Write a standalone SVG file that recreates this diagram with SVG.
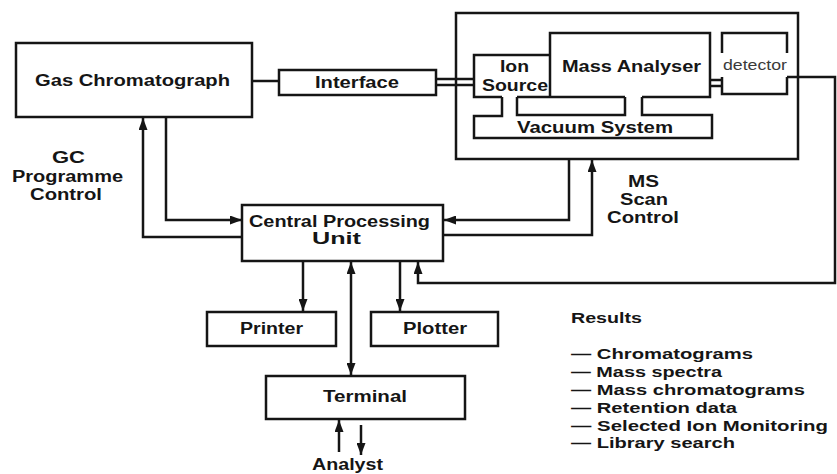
<svg xmlns="http://www.w3.org/2000/svg" width="837" height="474" viewBox="0 0 837 474">
<style>
.b{fill:none;stroke:#151515;stroke-width:2.5;stroke-linejoin:miter}
.c{fill:none;stroke:#151515;stroke-width:2.5}
.t{font-family:"Liberation Sans",Arial,sans-serif;font-weight:bold;font-size:16px;fill:#151515}
.s{font-family:"Liberation Sans",Arial,sans-serif;font-weight:normal;font-size:14px;fill:#3a3a3a}
.r{font-family:"Liberation Sans",Arial,sans-serif;font-weight:bold;font-size:15px;fill:#151515}
</style>
<defs>
<marker id="ah" viewBox="0 0 12 9" refX="12" refY="4.5" markerWidth="12" markerHeight="9" markerUnits="userSpaceOnUse" orient="auto-start-reverse">
<path d="M0,0 L12,4.5 L0,9 z" fill="#151515"/>
</marker>
</defs>
<rect width="837" height="474" fill="#fff"/>

<g id="gc">
<rect class="b" x="16" y="43" width="236" height="74"/>
<text class="t" x="35" y="86" textLength="195" lengthAdjust="spacingAndGlyphs">Gas Chromatograph</text>
</g>

<g id="interface">
<rect class="b" x="279" y="70" width="157" height="25"/>
<text class="t" x="315" y="88" textLength="84" lengthAdjust="spacingAndGlyphs">Interface</text>
</g>

<g id="ms">
<rect class="b" x="456" y="13" width="342" height="146"/>
</g>

<g id="ion-source">
<path class="b" d="M550,55 H474 V97 H502 M517,97 H550"/>
<text class="t" x="500" y="72" textLength="29" lengthAdjust="spacingAndGlyphs">Ion</text>
<text class="t" x="482" y="91" textLength="66" lengthAdjust="spacingAndGlyphs">Source</text>
</g>

<g id="mass-analyser">
<path class="b" d="M550,97 V33 H710 V97 H642 M625,97 H550"/>
<text class="t" x="562" y="72" textLength="139" lengthAdjust="spacingAndGlyphs">Mass Analyser</text>
</g>

<g id="vacuum-system">
<path class="b" d="M502,97 V116 H474 V138 H712 V115 H642 V97"/>
<path class="b" d="M517,97 V115 H625 V97"/>
<text class="t" x="517" y="133" textLength="156" lengthAdjust="spacingAndGlyphs">Vacuum System</text>
</g>

<g id="detector">
<path class="b" d="M722,53 V33 H787 V53 M722,77 V94 H787 V77"/>
<text class="s" x="723" y="70" textLength="64" lengthAdjust="spacingAndGlyphs">detector</text>
</g>

<g id="cpu">
<rect class="b" x="242" y="205" width="201" height="56"/>
<text class="t" x="249" y="227" textLength="181" lengthAdjust="spacingAndGlyphs">Central Processing</text>
<text class="t" x="312" y="244" textLength="49" lengthAdjust="spacingAndGlyphs">Unit</text>
</g>

<g id="printer">
<rect class="b" x="207" y="312" width="129" height="34"/>
<text class="t" x="240" y="334" textLength="63" lengthAdjust="spacingAndGlyphs">Printer</text>
</g>

<g id="plotter">
<rect class="b" x="371" y="312" width="127" height="34"/>
<text class="t" x="403" y="334" textLength="64" lengthAdjust="spacingAndGlyphs">Plotter</text>
</g>

<g id="terminal">
<rect class="b" x="266" y="376" width="199" height="43"/>
<text class="t" x="323" y="402" textLength="84" lengthAdjust="spacingAndGlyphs">Terminal</text>
</g>

<g id="analyst">
<text class="t" x="312" y="470" textLength="71" lengthAdjust="spacingAndGlyphs">Analyst</text>
</g>

<g id="gc-label">
<text class="t" x="52" y="163" textLength="33" lengthAdjust="spacingAndGlyphs">GC</text>
<text class="t" x="12" y="182" textLength="111" lengthAdjust="spacingAndGlyphs">Programme</text>
<text class="t" x="30" y="200" textLength="72" lengthAdjust="spacingAndGlyphs">Control</text>
</g>

<g id="ms-label">
<text class="t" x="628" y="187" textLength="31" lengthAdjust="spacingAndGlyphs">MS</text>
<text class="t" x="620" y="205" textLength="48" lengthAdjust="spacingAndGlyphs">Scan</text>
<text class="t" x="607" y="223" textLength="72" lengthAdjust="spacingAndGlyphs">Control</text>
</g>

<g id="results">
<text class="r" x="571" y="323" textLength="71" lengthAdjust="spacingAndGlyphs" style="font-weight:900">Results</text>
<text class="r" x="571" y="359" textLength="182" lengthAdjust="spacingAndGlyphs">— Chromatograms</text>
<text class="r" x="571" y="377" textLength="151" lengthAdjust="spacingAndGlyphs">— Mass spectra</text>
<text class="r" x="571" y="395" textLength="234" lengthAdjust="spacingAndGlyphs">— Mass chromatograms</text>
<text class="r" x="571" y="413" textLength="166" lengthAdjust="spacingAndGlyphs">— Retention data</text>
<text class="r" x="571" y="431" textLength="257" lengthAdjust="spacingAndGlyphs">— Selected Ion Monitoring</text>
<text class="r" x="571" y="448" textLength="164" lengthAdjust="spacingAndGlyphs">— Library search</text>
</g>

<g id="connectors">
<path class="c" d="M252,81 H279"/>
<path class="c" d="M436,79 H474 M436,85 H474"/>
<path class="c" d="M710,80 H722 M710,86 H722"/>
<path class="c" d="M787,77 H835 V283 H418 V262" marker-end="url(#ah)"/>
<path class="c" d="M166,117 V220 H242" marker-end="url(#ah)"/>
<path class="c" d="M242,237 H143 V118" marker-end="url(#ah)"/>
<path class="c" d="M569,159 V220 H444" marker-end="url(#ah)"/>
<path class="c" d="M443,235 H592 V160" marker-end="url(#ah)"/>
<path class="c" d="M303,261 V311" marker-end="url(#ah)"/>
<path class="c" d="M400,261 V311" marker-end="url(#ah)"/>
<path class="c" d="M351,262 V375" marker-start="url(#ah)" marker-end="url(#ah)"/>
<path class="c" d="M339,452 V420" marker-end="url(#ah)"/>
<path class="c" d="M361,425 V455" marker-end="url(#ah)"/>
</g>
</svg>
